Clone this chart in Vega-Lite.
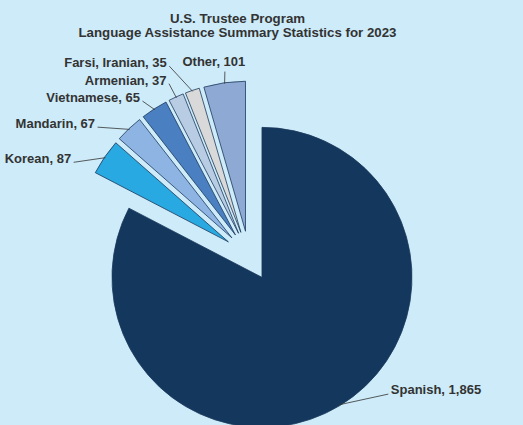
{
  "$schema": "https://vega.github.io/schema/vega-lite/v6.json",
  "width": 498,
  "height": 338,
  "autosize": {"type": "none"},
  "padding": {"left": 0, "top": 87, "right": 25, "bottom": 0},
  "background": "#cdebf9",
  "config": {"view": {"stroke": null}, "font": "Liberation Sans"},
  "title": {
    "text": ["U.S. Trustee Program", "Language Assistance Summary Statistics for 2023"],
    "fontSize": 13.3,
    "fontWeight": "bold",
    "color": "#333333",
    "font": "Liberation Sans",
    "anchor": "middle",
    "frame": "group",
    "offset": 16,
    "dx": -11.5,
    "lineHeight": 14
  },
  "data": {
    "values": [
      {"language": "Spanish", "count": 1865},
      {"language": "Korean", "count": 87},
      {"language": "Mandarin", "count": 67},
      {"language": "Vietnamese", "count": 65},
      {"language": "Armenian", "count": 37},
      {"language": "Farsi, Iranian", "count": 35},
      {"language": "Other", "count": 101}
    ]
  },
  "transform": [{"stack": "count", "groupby": [], "as": ["s0", "s1"]}],
  "layer": [
    {
      "mark": {
        "type": "arc",
        "radius": 150,
        "stroke": "#1d3a5c",
        "strokeWidth": 0.8,
        "xOffset": {"expr": "25*sin(scale('theta',(datum.s0+datum.s1)/2))"},
        "yOffset": {"expr": "-25*cos(scale('theta',(datum.s0+datum.s1)/2))"}
      },
      "encoding": {
        "theta": {"field": "s1", "type": "quantitative", "scale": {"zero": true, "nice": false}},
        "theta2": {"field": "s0"},
        "color": {
          "field": "language",
          "type": "nominal",
          "scale": {
            "domain": ["Spanish", "Korean", "Mandarin", "Vietnamese", "Armenian", "Farsi, Iranian", "Other"],
            "range": ["#14375e", "#29a9e1", "#8eb4e3", "#4a7fc1", "#b8cce4", "#d9d9d9", "#8eaad4"]
          },
          "legend": null
        }
      }
    },
    {
      "transform": [{"filter": {"field": "language", "oneOf": ["Korean", "Mandarin"]}}],
      "layer": [
        {
          "mark": {"type": "rule", "color": "#333333", "strokeWidth": 0.8},
          "encoding": {
            "x": {"value": {"expr": "width/2+174*sin(scale('theta',(datum.s0+datum.s1)/2))"}},
            "y": {"value": {"expr": "height/2-174*cos(scale('theta',(datum.s0+datum.s1)/2))"}},
            "x2": {"value": {"expr": "width/2+25*sin(scale('theta',(datum.s0+datum.s1)/2))+174*sin(scale('theta',(datum.s0+datum.s1)/2)-0.1257)"}},
            "y2": {"value": {"expr": "height/2-25*cos(scale('theta',(datum.s0+datum.s1)/2))-174*cos(scale('theta',(datum.s0+datum.s1)/2)-0.1257)"}}
          }
        },
        {
          "mark": {
            "type": "text", "align": "right", "baseline": "alphabetic", "dx": -2.5, "dy": 1,
            "fontSize": 13, "fontWeight": "bold", "color": "#333333",
            "text": {"expr": "datum.language + ', ' + format(datum.count, ',')"},
            "x": {"expr": "width/2+25*sin(scale('theta',(datum.s0+datum.s1)/2))+174*sin(scale('theta',(datum.s0+datum.s1)/2)-0.1257)"},
            "y": {"expr": "height/2-25*cos(scale('theta',(datum.s0+datum.s1)/2))-174*cos(scale('theta',(datum.s0+datum.s1)/2)-0.1257)"}
          },
          "encoding": {}
        }
      ]
    },
    {
      "transform": [{"filter": {"field": "language", "equal": "Vietnamese"}}],
      "layer": [
        {
          "mark": {"type": "rule", "color": "#333333", "strokeWidth": 0.8},
          "encoding": {
            "x": {"value": {"expr": "width/2+174*sin(scale('theta',(datum.s0+datum.s1)/2))"}},
            "y": {"value": {"expr": "height/2-174*cos(scale('theta',(datum.s0+datum.s1)/2))"}},
            "x2": {"value": {"expr": "width/2+25*sin(scale('theta',(datum.s0+datum.s1)/2))+163*sin(scale('theta',(datum.s0+datum.s1)/2)-0.0349)"}},
            "y2": {"value": {"expr": "height/2-25*cos(scale('theta',(datum.s0+datum.s1)/2))-163*cos(scale('theta',(datum.s0+datum.s1)/2)-0.0349)"}}
          }
        },
        {
          "mark": {
            "type": "text", "align": "right", "baseline": "alphabetic", "dx": -2.5, "dy": 1,
            "fontSize": 13, "fontWeight": "bold", "color": "#333333",
            "text": {"expr": "datum.language + ', ' + format(datum.count, ',')"},
            "x": {"expr": "width/2+25*sin(scale('theta',(datum.s0+datum.s1)/2))+163*sin(scale('theta',(datum.s0+datum.s1)/2)-0.0349)"},
            "y": {"expr": "height/2-25*cos(scale('theta',(datum.s0+datum.s1)/2))-163*cos(scale('theta',(datum.s0+datum.s1)/2)-0.0349)"}
          },
          "encoding": {}
        }
      ]
    },
    {
      "transform": [{"filter": {"field": "language", "equal": "Armenian"}}],
      "layer": [
        {
          "mark": {"type": "rule", "color": "#333333", "strokeWidth": 0.8},
          "encoding": {
            "x": {"value": {"expr": "width/2+174*sin(scale('theta',(datum.s0+datum.s1)/2))"}},
            "y": {"value": {"expr": "height/2-174*cos(scale('theta',(datum.s0+datum.s1)/2))"}},
            "x2": {"value": {"expr": "width/2+25*sin(scale('theta',(datum.s0+datum.s1)/2))+165*sin(scale('theta',(datum.s0+datum.s1)/2)-0.0052)"}},
            "y2": {"value": {"expr": "height/2-25*cos(scale('theta',(datum.s0+datum.s1)/2))-165*cos(scale('theta',(datum.s0+datum.s1)/2)-0.0052)"}}
          }
        },
        {
          "mark": {
            "type": "text", "align": "right", "baseline": "alphabetic", "dx": -2.5, "dy": 1,
            "fontSize": 13, "fontWeight": "bold", "color": "#333333",
            "text": {"expr": "datum.language + ', ' + format(datum.count, ',')"},
            "x": {"expr": "width/2+25*sin(scale('theta',(datum.s0+datum.s1)/2))+165*sin(scale('theta',(datum.s0+datum.s1)/2)-0.0052)"},
            "y": {"expr": "height/2-25*cos(scale('theta',(datum.s0+datum.s1)/2))-165*cos(scale('theta',(datum.s0+datum.s1)/2)-0.0052)"}
          },
          "encoding": {}
        }
      ]
    },
    {
      "transform": [{"filter": {"field": "language", "equal": "Farsi, Iranian"}}],
      "layer": [
        {
          "mark": {"type": "rule", "color": "#333333", "strokeWidth": 0.8},
          "encoding": {
            "x": {"value": {"expr": "width/2+174*sin(scale('theta',(datum.s0+datum.s1)/2))"}},
            "y": {"value": {"expr": "height/2-174*cos(scale('theta',(datum.s0+datum.s1)/2))"}},
            "x2": {"value": {"expr": "width/2+25*sin(scale('theta',(datum.s0+datum.s1)/2))+181*sin(scale('theta',(datum.s0+datum.s1)/2)-0.0768)"}},
            "y2": {"value": {"expr": "height/2-25*cos(scale('theta',(datum.s0+datum.s1)/2))-181*cos(scale('theta',(datum.s0+datum.s1)/2)-0.0768)"}}
          }
        },
        {
          "mark": {
            "type": "text", "align": "right", "baseline": "alphabetic", "dx": -2.5, "dy": 1,
            "fontSize": 13, "fontWeight": "bold", "color": "#333333",
            "text": {"expr": "datum.language + ', ' + format(datum.count, ',')"},
            "x": {"expr": "width/2+25*sin(scale('theta',(datum.s0+datum.s1)/2))+181*sin(scale('theta',(datum.s0+datum.s1)/2)-0.0768)"},
            "y": {"expr": "height/2-25*cos(scale('theta',(datum.s0+datum.s1)/2))-181*cos(scale('theta',(datum.s0+datum.s1)/2)-0.0768)"}
          },
          "encoding": {}
        }
      ]
    },
    {
      "transform": [{"filter": {"field": "language", "equal": "Other"}}],
      "layer": [
        {
          "mark": {"type": "rule", "color": "#333333", "strokeWidth": 0.8},
          "encoding": {
            "x": {"value": {"expr": "width/2+174*sin(scale('theta',(datum.s0+datum.s1)/2))"}},
            "y": {"value": {"expr": "height/2-174*cos(scale('theta',(datum.s0+datum.s1)/2))"}},
            "x2": {"value": {"expr": "width/2+25*sin(scale('theta',(datum.s0+datum.s1)/2))+161*sin(scale('theta',(datum.s0+datum.s1)/2)+0.0122)"}},
            "y2": {"value": {"expr": "height/2-25*cos(scale('theta',(datum.s0+datum.s1)/2))-161*cos(scale('theta',(datum.s0+datum.s1)/2)+0.0122)"}}
          }
        },
        {
          "mark": {
            "type": "text", "align": "center", "baseline": "alphabetic", "dx": -11, "dy": -6,
            "fontSize": 13, "fontWeight": "bold", "color": "#333333",
            "text": {"expr": "datum.language + ', ' + format(datum.count, ',')"},
            "x": {"expr": "width/2+25*sin(scale('theta',(datum.s0+datum.s1)/2))+161*sin(scale('theta',(datum.s0+datum.s1)/2)+0.0122)"},
            "y": {"expr": "height/2-25*cos(scale('theta',(datum.s0+datum.s1)/2))-161*cos(scale('theta',(datum.s0+datum.s1)/2)+0.0122)"}
          },
          "encoding": {}
        }
      ]
    },
    {
      "transform": [{"filter": {"field": "language", "equal": "Spanish"}}],
      "layer": [
        {
          "mark": {"type": "rule", "color": "#333333", "strokeWidth": 0.8},
          "encoding": {
            "x": {"value": {"expr": "width/2+174*sin(scale('theta',(datum.s0+datum.s1)/2))"}},
            "y": {"value": {"expr": "height/2-174*cos(scale('theta',(datum.s0+datum.s1)/2))"}},
            "x2": {"value": {"expr": "width/2+25*sin(scale('theta',(datum.s0+datum.s1)/2))+172*sin(scale('theta',(datum.s0+datum.s1)/2)-0.2793)"}},
            "y2": {"value": {"expr": "height/2-25*cos(scale('theta',(datum.s0+datum.s1)/2))-172*cos(scale('theta',(datum.s0+datum.s1)/2)-0.2793)"}}
          }
        },
        {
          "mark": {
            "type": "text", "align": "left", "baseline": "alphabetic", "dx": 2.5, "dy": 0,
            "fontSize": 13, "fontWeight": "bold", "color": "#333333",
            "text": {"expr": "datum.language + ', ' + format(datum.count, ',')"},
            "x": {"expr": "width/2+25*sin(scale('theta',(datum.s0+datum.s1)/2))+172*sin(scale('theta',(datum.s0+datum.s1)/2)-0.2793)"},
            "y": {"expr": "height/2-25*cos(scale('theta',(datum.s0+datum.s1)/2))-172*cos(scale('theta',(datum.s0+datum.s1)/2)-0.2793)"}
          },
          "encoding": {}
        }
      ]
    }
  ]
}
